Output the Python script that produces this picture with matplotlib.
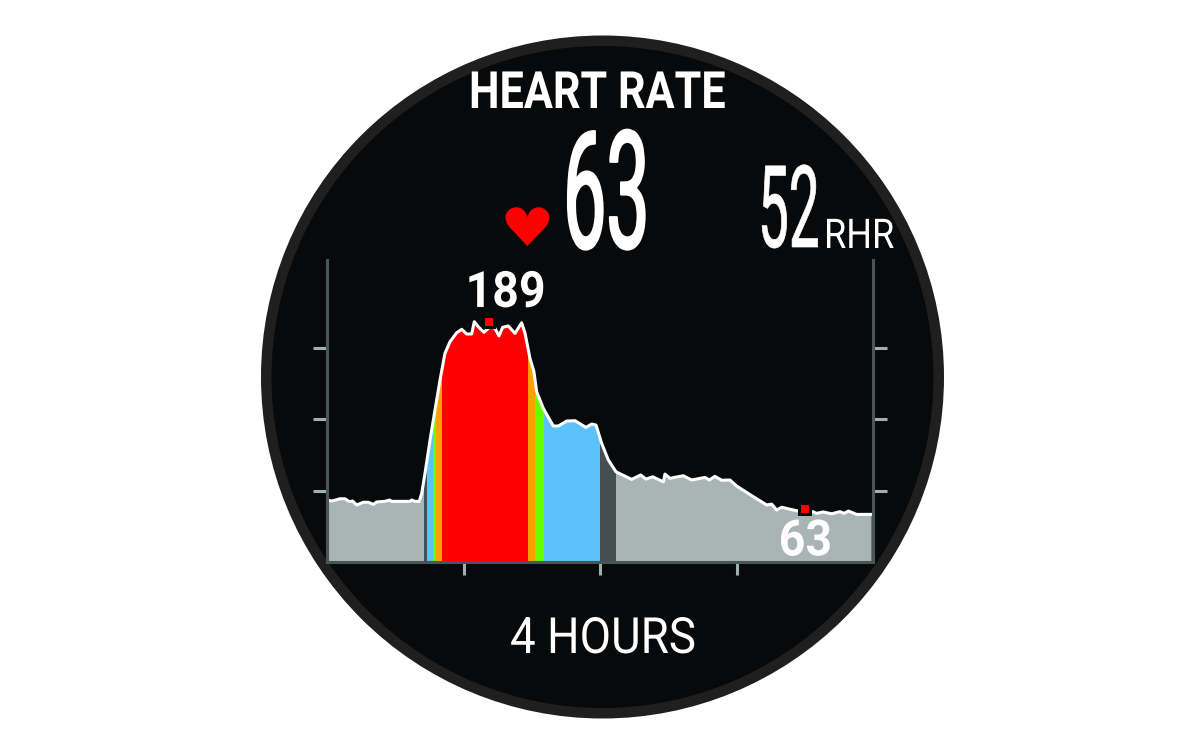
import matplotlib
matplotlib.use('Agg')
import matplotlib.pyplot as plt
from matplotlib.patches import Circle
from matplotlib.patheffects import AbstractPathEffect
from matplotlib.transforms import Affine2D

WIDTH, HEIGHT = 1200, 750

# heart rate trace, hours on x and bpm on y
hours = [0.0, 0.034, 0.095, 0.132, 0.164, 0.188, 0.217, 0.266, 0.303, 0.339, 0.364, 0.425,
         0.457, 0.474, 0.608, 0.620, 0.645, 0.676, 0.694, 0.718, 0.755, 0.791, 0.828, 0.864,
         0.901, 0.950, 0.987, 1.023, 1.060, 1.079, 1.108, 1.150, 1.194, 1.231, 1.260, 1.287,
         1.328, 1.377, 1.426, 1.451, 1.487, 1.516, 1.536, 1.585, 1.658, 1.695, 1.756, 1.817,
         1.897, 1.939, 1.971, 2.012, 2.061, 2.117, 2.232, 2.298, 2.337, 2.386, 2.464, 2.476,
         2.513, 2.610, 2.672, 2.769, 2.801, 2.842, 2.892, 2.952, 3.001, 3.123, 3.221, 3.258,
         3.294, 3.331, 3.441, 3.558, 3.587, 3.636, 3.697, 3.758, 3.788, 3.820, 3.880, 3.990]
bpm = [71.6, 70.9, 72.4, 72.4, 70.5, 70.9, 68.3, 70.1, 70.1, 68.7, 70.3, 70.7,
       71.6, 70.7, 70.7, 71.6, 70.7, 70.7, 76.0, 89.2, 111.2, 130.9, 150.7, 168.3,
       176.0, 181.9, 184.2, 181.1, 181.1, 189.2, 185.9, 182.2, 185.9, 184.8, 179.8, 185.5,
       186.4, 181.5, 188.5, 181.5, 165.0, 156.2, 143.0, 132.0, 120.4, 120.4, 123.7, 123.9,
       119.5, 121.7, 121.0, 109.0, 98.0, 90.2, 85.2, 88.1, 85.4, 86.9, 83.6, 88.7,
       85.9, 87.6, 84.8, 86.5, 84.8, 87.2, 84.6, 84.8, 80.8, 73.8, 68.3, 68.9,
       65.0, 66.8, 64.5, 63.9, 62.8, 63.7, 62.5, 63.9, 62.8, 64.3, 62.1, 62.1]

# coloured zones under the trace
zone_edges = [0.0, 0.711, 0.730, 0.779, 0.799, 0.842, 1.473, 1.524, 1.587, 2.0, 2.117, 4.0]
zone_colors = ['#a9b5b4', '#454f50', '#5bc2fb', '#66ff00', '#ff9f00', '#ff0000',
               '#ff9f00', '#66ff00', '#5bc2fb', '#454f50', '#a9b5b4']

x_ticks = [1, 2, 3]
y_ticks = [77.5, 124.7, 171.8]
peak_time, peak_value = 1.187, 188.7
low_time, low_value = 3.5, 65.7


class Stretch(AbstractPathEffect):
    # tall condensed look, none of the installed fonts is narrow enough
    def __init__(self, sy, stroke=0):
        super().__init__()
        self.sy = sy
        self.stroke = stroke

    def draw_path(self, renderer, gc, tpath, affine, rgbFace=None):
        gc0 = renderer.new_gc()
        gc0.copy_properties(gc)
        gc0.set_linewidth(self.stroke)
        gc0.set_foreground(rgbFace)
        renderer.draw_path(gc0, tpath, Affine2D().scale(1, self.sy) + affine, rgbFace)
        gc0.restore()


def label(x, y, text, size, sy, weight='regular', stroke=0):
    face.text(x, y, text, color='white', fontsize=size, fontfamily='Roboto', fontweight=weight,
              ha='left', va='baseline', path_effects=[Stretch(sy, stroke)])


fig = plt.figure(figsize=(WIDTH / 100, HEIGHT / 100), dpi=100, facecolor='white')

face = fig.add_axes([0, 0, 1, 1], zorder=0)
face.set_xlim(0, WIDTH)
face.set_ylim(HEIGHT, 0)
face.axis('off')
face.add_patch(Circle((602.5, 377), 341.5, color='#1f1f1f', lw=0))
face.add_patch(Circle((602.5, 377), 331, color='#08090a', lw=0))

label(469, 108, 'HEART RATE', 31.1, 1.19, 'bold')
label(563, 248, '63', 55.5, 2.13, 'regular', 1.5)
label(758, 247, '52', 39.5, 2.08, 'regular', 0.5)
label(824, 248, 'RHR', 26, 1.136)
label(510, 653, '4 HOURS', 32.9, 1.093)
face.text(500, 246, '\u2665', color='#ff0000', fontsize=44, fontfamily='DejaVu Sans',
          ha='left', va='baseline', path_effects=[Stretch(0.87)])

ax = fig.add_axes([327 / WIDTH, 1 - 562 / HEIGHT, 546 / WIDTH, 302 / HEIGHT], zorder=1)
ax.patch.set_visible(False)
ax.set_xlim(0, 4)
ax.set_ylim(30.7, 229.9)

shape = ax.fill_between(hours, bpm, 30.7, color='none', lw=0)
for i, color in enumerate(zone_colors):
    span = ax.axvspan(zone_edges[i], zone_edges[i + 1], color=color, lw=0, zorder=1)
    span.set_clip_path(shape.get_paths()[0], shape.get_transform())
ax.plot(hours, bpm, color='white', lw=2.2, zorder=3, solid_joinstyle='round')

for t, v, dx, dy, txt in [(peak_time, peak_value, -23.5, 15.5, '189'), (low_time, low_value, -26, -46.5, '63')]:
    ax.plot([t], [v], 's', ms=10, color='#08090a', mew=0, zorder=4)
    ax.plot([t], [v], 's', ms=5.5, color='#ff0000', mew=0, zorder=5)
    ax.annotate(txt, (t, v), xytext=(dx, dy), textcoords='offset pixels', color='white', fontsize=33.5,
                fontfamily='Roboto', fontweight='bold', ha='left', va='baseline', zorder=6,
                path_effects=[Stretch(1.075)])

ax.set_xticks(x_ticks)
ax.set_yticks(y_ticks)
ax.set_xticklabels([])
ax.set_yticklabels([])
ax.tick_params(axis='x', color='#a0afaf', length=9, width=2.2)
ax.tick_params(axis='y', color='#a0afaf', length=10, width=2.2, left=True, right=True)
ax.spines['top'].set_visible(False)
for side in ['left', 'right', 'bottom']:
    ax.spines[side].set_color('#4a5656')
    ax.spines[side].set_linewidth(2.2)
    ax.spines[side].set_zorder(7)

fig.savefig('out.png', dpi=100)
